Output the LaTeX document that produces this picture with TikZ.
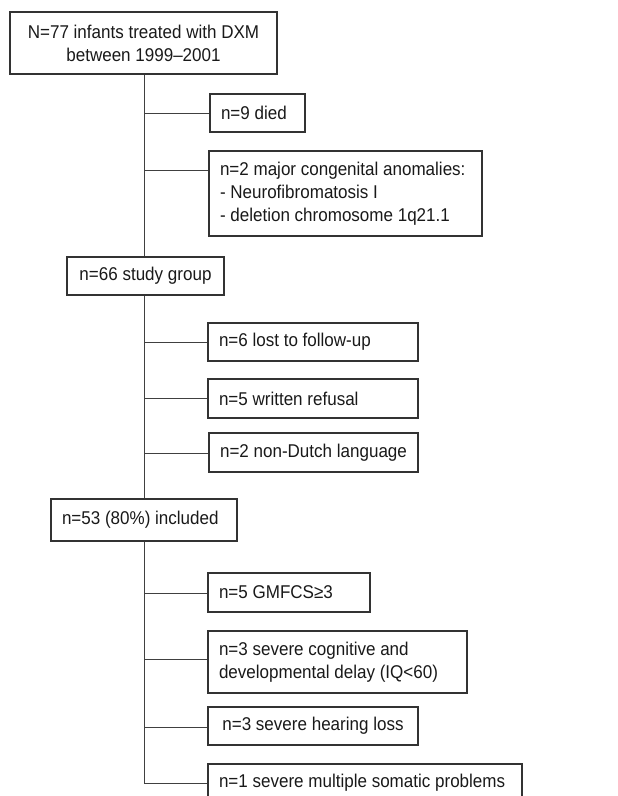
\documentclass[tikz,border=0pt]{standalone}
\usepackage{fontspec}
\setmainfont{Liberation Sans}[FakeStretch=0.92]
\newcommand{\ltxt}[2]{\makebox[#1][l]{#2}}
\begin{document}
\begin{tikzpicture}[x=1pt,y=-1pt,
  box/.style={draw=black!80, line width=1.1pt, inner ysep=0pt, inner xsep=11pt,
    font=\fontsize{18.5}{23}\selectfont, text=black!90},
  lbox/.style={box, align=left},
  cbox/.style={box, align=center},
  link/.style={draw=black!75, line width=1pt}]
\useasboundingbox (0,0) rectangle (618,796);
% boxes
\node[cbox, minimum width=267pt, minimum height=62pt] (top) at (143.5,43) {N=77 infants treated with DXM\\between 1999–2001};
\node[lbox, minimum height=38pt] (died) at (257.5,113) {\ltxt{73pt}{n=9 died}};
\node[lbox, minimum height=85pt] (anom) at (345.5,193.5) {\ltxt{251pt}{n=2 major congenital anomalies:}\\\ltxt{251pt}{- Neurofibromatosis I}\\\ltxt{251pt}{- deletion chromosome 1q21.1}};
\node[cbox, minimum width=157pt, minimum height=38pt] (study) at (145.5,276) {n=66 study group};
\node[lbox, minimum height=38pt] (lost) at (313,342) {\ltxt{188pt}{n=6 lost to follow-up}};
\node[lbox, minimum height=39pt] (refusal) at (313,398.5) {\ltxt{188pt}{n=5 written refusal}};
\node[cbox, minimum width=209pt, minimum height=39pt] (dutch) at (313.5,452.5) {n=2 non-Dutch language};
\node[lbox, minimum height=42pt] (incl) at (144,520) {\ltxt{164pt}{n=53 (80\%) included}};
\node[lbox, minimum height=39pt] (gmfcs) at (289,592.5) {\ltxt{140pt}{n=5 GMFCS≥3}};
\node[lbox, minimum height=62pt] (cog) at (337.5,662) {\ltxt{237pt}{n=3 severe cognitive and}\\\ltxt{237pt}{developmental delay (IQ<60)}};
\node[cbox, minimum width=210pt, minimum height=38pt] (hear) at (313,726) {n=3 severe hearing loss};
\node[lbox, minimum height=38pt] (mult) at (365,783) {\ltxt{292pt}{n=1 severe multiple somatic problems}};
% trunk junctions
\coordinate (j1) at (144,113);
\coordinate (j2) at (144,170);
\coordinate (j3) at (144,342);
\coordinate (j4) at (144,398);
\coordinate (j5) at (144,453);
\coordinate (j6) at (144,593);
\coordinate (j7) at (144,659);
\coordinate (j8) at (144,727);
\coordinate (j9) at (144,783);
% trunk
\draw[link] (top.south -| j1) -- (study.north -| j1);
\draw[link] (study.south -| j1) -- (incl.north -| j1);
\draw[link] (incl.south -| j1) -- (j9);
% branches
\draw[link] (j1) -- (j1 -| died.west);
\draw[link] (j2) -- (j2 -| anom.west);
\draw[link] (j3) -- (j3 -| lost.west);
\draw[link] (j4) -- (j4 -| refusal.west);
\draw[link] (j5) -- (j5 -| dutch.west);
\draw[link] (j6) -- (j6 -| gmfcs.west);
\draw[link] (j7) -- (j7 -| cog.west);
\draw[link] (j8) -- (j8 -| hear.west);
\draw[link] (j9) -- (j9 -| mult.west);
\end{tikzpicture}
\end{document}
